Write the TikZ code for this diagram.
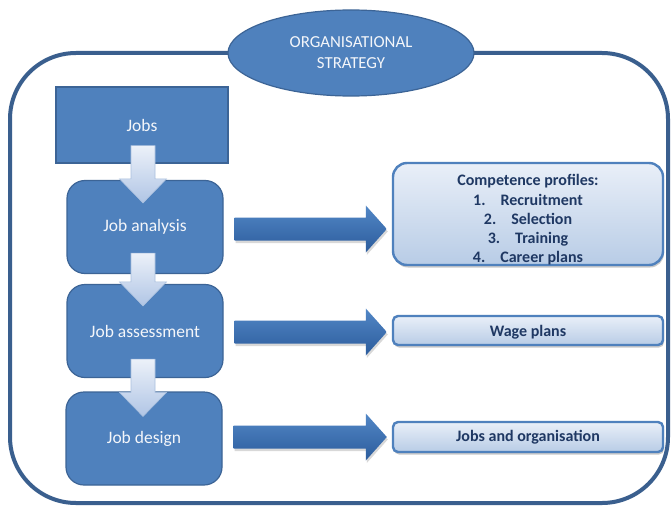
\documentclass[tikz,border=0pt]{standalone}
\usepackage{fontspec}
\setmainfont{Carlito}
\usetikzlibrary{shapes.geometric,calc,shadows}
\definecolor{boxblue}{RGB}{79,129,189}
\definecolor{boxline}{RGB}{60,100,150}
\definecolor{framecol}{RGB}{58,95,142}
\definecolor{paletext}{RGB}{244,246,250}
\definecolor{darktext}{RGB}{31,56,99}
\definecolor{lighttop}{RGB}{233,239,248}
\definecolor{lightbot}{RGB}{184,204,230}
\definecolor{arrtop}{RGB}{236,241,249}
\definecolor{arrbot}{RGB}{176,197,229}
\definecolor{arrline}{RGB}{170,192,222}
\definecolor{ratop}{RGB}{82,135,198}
\definecolor{rabot}{RGB}{44,92,156}
\newcommand\downblock[2]{%
  \path[darrow] let \p1=(#1), \p2=(#2) in
    (\x1-12pt,\y1) -- (\x1-12pt,\y2+24pt) -- (\x1-23.5pt,\y2+24pt) -- (\x1,\y2)
    -- (\x1+23.5pt,\y2+24pt) -- (\x1+12pt,\y2+24pt) -- (\x1+12pt,\y1) -- cycle;}
\newcommand\rightblock[2]{%
  \path[rarrow] let \p1=(#1), \p2=(#2) in
    (\x1,\y1+11.5pt) -- (\x2-21pt,\y1+11.5pt) -- (\x2-21pt,\y1+23.5pt) -- (\x2,\y1)
    -- (\x2-21pt,\y1-23.5pt) -- (\x2-21pt,\y1-11.5pt) -- (\x1,\y1-11.5pt) -- cycle;}
\begin{document}
\begin{tikzpicture}[x=1pt,y=-1pt,
  outer/.style={draw=framecol,line width=4pt,rounded corners=66pt,minimum width=658pt,minimum height=450pt,inner sep=0pt},
  strat/.style={ellipse,draw=boxline,line width=1.2pt,fill=boxblue,minimum width=246pt,minimum height=86pt,inner sep=0pt,
     text=paletext,align=center,font=\fontsize{16.8}{21}\selectfont},
  bluebox/.style={draw=boxline,line width=1.2pt,fill=boxblue,inner sep=0pt,text=paletext,font=\fontsize{17.5}{21}\selectfont},
  stepbox/.style={bluebox,rounded corners=18pt,minimum width=156pt,minimum height=93pt},
  resbox/.style={draw=boxblue,line width=2.4pt,top color=lighttop,bottom color=lightbot,inner sep=0pt,
     text=darktext,align=center,font=\bfseries\fontsize{16}{19.5}\selectfont,minimum width=270pt,
     drop shadow={shadow xshift=1pt,shadow yshift=-2.5pt,opacity=0.35,fill=black!60}},
  restext/.style={text=darktext,align=center,inner sep=0pt,font=\bfseries\fontsize{16}{19.3}\selectfont},
  darrow/.style={draw=arrline,line width=0.6pt,top color=arrtop,bottom color=arrbot},
  rarrow/.style={top color=ratop,bottom color=rabot,draw=none,
     drop shadow={shadow xshift=1pt,shadow yshift=-2.5pt,opacity=0.25,fill=black!60}}]
\fill[white] (0,0) rectangle (671,508);
\useasboundingbox (0,0) rectangle (671,508);

\node[outer] (frame) at (339,278) {};
\node[strat] (os) at (351,53) {ORGANISATIONAL\\STRATEGY};

\node[bluebox,minimum width=172pt,minimum height=76pt] (jobs) at (142,125) {Jobs};
\node[stepbox] (ja) at (145,227) {Job analysis};
\node[stepbox] (jas) at (145,331) {Job assessment};
\node[stepbox] (jd) at (144,438.5) {Job design};

\node[resbox,rounded corners=14pt,minimum height=102pt] (cp) at (528,214) {};
\node[restext] (cptext) at ($(cp.center)+(0,6)$)
  {Competence profiles:\\1.\hspace{15pt}Recruitment\\2.\hspace{15pt}Selection\\3.\hspace{15pt}Training\\4.\hspace{15pt}Career plans};
\node[resbox,rounded corners=5pt,minimum height=29pt] (wp) at (528,330.5) {};
\node[restext] (wptext) at ($(wp.center)+(0,1.5)$) {Wage plans};
\node[resbox,rounded corners=5pt,minimum height=30pt] (jo) at (528,437) {};
\node[restext] (jotext) at ($(jo.center)+(0,0.5)$) {Jobs and organisation};

\coordinate (d1s) at ($(jobs.south)+(1,-18)$);
\coordinate (d1t) at ($(ja.north)+(-2,23)$);
\coordinate (d2s) at ($(ja.south)+(-2,-21)$);
\coordinate (d2t) at ($(jas.north)+(-2,22)$);
\coordinate (d3s) at ($(jas.south)+(-2,-19)$);
\coordinate (d3t) at ($(jd.north)+(-1,25)$);
\downblock{d1s}{d1t}
\downblock{d2s}{d2t}
\downblock{d3s}{d3t}

\coordinate (r1s) at ($(ja.east)+(11,2)$);
\coordinate (r1t) at ($(r1s -| cp.west)+(-5,0)$);
\coordinate (r2s) at ($(jas.east)+(11,1)$);
\coordinate (r2t) at ($(r2s -| wp.west)+(-5,0)$);
\coordinate (r3s) at ($(jd.east)+(11,-1.5)$);
\coordinate (r3t) at ($(r3s -| jo.west)+(-5,0)$);
\rightblock{r1s}{r1t}
\rightblock{r2s}{r2t}
\rightblock{r3s}{r3t}
\end{tikzpicture}
\end{document}
